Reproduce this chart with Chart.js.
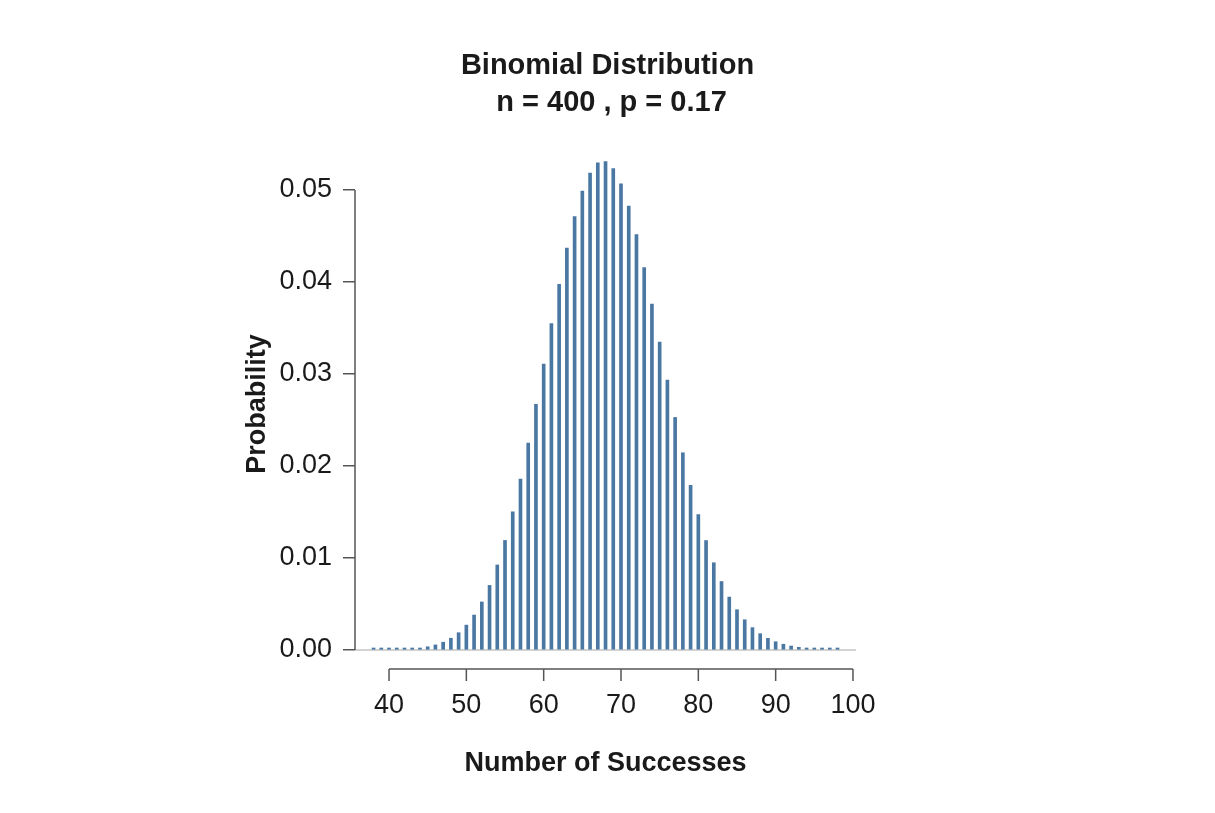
<!DOCTYPE html>
<html>
<head>
<meta charset="utf-8">
<script src="https://cdn.jsdelivr.net/npm/chart.js@4/dist/chart.umd.min.js"></script>
<style>
  html, body { margin: 0; padding: 0; background: #ffffff; }
  #wrap { width: 1215px; height: 813px; }
</style>
</head>
<body>
<div id="wrap"><canvas id="chart" width="1215" height="813"></canvas></div>
<script>
const successes = [
  38, 39, 40, 41, 42, 43, 44, 45, 46, 47, 48, 49, 50, 51, 52, 53, 54, 55, 56, 57,
  58, 59, 60, 61, 62, 63, 64, 65, 66, 67, 68, 69, 70, 71, 72, 73, 74, 75, 76, 77,
  78, 79, 80, 81, 82, 83, 84, 85, 86, 87, 88, 89, 90, 91, 92, 93, 94, 95, 96, 97, 98,
];
const probabilities = [
  0.0000068, 0.000013, 0.0000241, 0.0000433, 0.0000758, 0.000129, 0.000215, 0.000348,
  0.00055, 0.000848, 0.001278, 0.00188, 0.002703, 0.003799, 0.005222, 0.007023,
  0.009243, 0.01191, 0.01503, 0.01858, 0.0225, 0.02671, 0.03109, 0.03549,
  0.03975, 0.04368, 0.04711, 0.04988, 0.05185, 0.05294, 0.0531, 0.05233,
  0.05068, 0.04825, 0.04516, 0.04156, 0.03761, 0.03348, 0.02933, 0.02528,
  0.02144, 0.0179, 0.01471, 0.0119, 0.009483, 0.007442, 0.005752, 0.00438,
  0.003286, 0.002429, 0.00177, 0.001271, 0.0009, 0.000628, 0.000432, 0.000293,
  0.000196, 0.000129, 0.000084, 0.0000539, 0.0000341,
];
const xTickValues = [40, 50, 60, 70, 80, 90, 100];
const yTickValues = [0, 0.01, 0.02, 0.03, 0.04, 0.05];

const FONT = "'Liberation Sans', Arial, Helvetica, sans-serif";
const BAR_COLOR = "#4b77a3";
const AXIS_COLOR = "#555555";
const TEXT_COLOR = "#1a1a1a";

// R-style axes: y line only spans the tick range, x axis is detached below the plot
const axesPlugin = {
  id: "rAxes",
  beforeDatasetsDraw(chart) {
    const { ctx, chartArea, scales } = chart;
    const y0 = scales.y.getPixelForValue(0);
    ctx.save();
    ctx.strokeStyle = "#c4c4c4";
    ctx.lineWidth = 1.5;
    ctx.beginPath();
    ctx.moveTo(chartArea.left, y0);
    ctx.lineTo(chartArea.right, y0);
    ctx.stroke();
    ctx.restore();
  },
  afterDraw(chart) {
    const { ctx, chartArea, scales } = chart;
    const x = scales.x;
    const y = scales.y;
    ctx.save();
    ctx.strokeStyle = AXIS_COLOR;
    ctx.lineWidth = 1.5;

    // y axis line
    ctx.beginPath();
    ctx.moveTo(chartArea.left, y.getPixelForValue(yTickValues[0]));
    ctx.lineTo(chartArea.left, y.getPixelForValue(yTickValues[yTickValues.length - 1]));
    ctx.stroke();

    // x axis line + ticks
    const axisY = chartArea.bottom + 19;
    ctx.beginPath();
    ctx.moveTo(x.getPixelForValue(xTickValues[0]), axisY);
    ctx.lineTo(x.getPixelForValue(xTickValues[xTickValues.length - 1]), axisY);
    for (const v of xTickValues) {
      const px = x.getPixelForValue(v);
      ctx.moveTo(px, axisY);
      ctx.lineTo(px, axisY + 12);
    }
    ctx.stroke();
    ctx.restore();
  },
};

const chart = new Chart(document.getElementById("chart"), {
  type: "bar",
  data: {
    datasets: [
      {
        label: "Probability",
        data: successes.map((k, i) => ({ x: k, y: probabilities[i] })),
        backgroundColor: BAR_COLOR,
        borderWidth: 0,
        barThickness: 3,
        minBarLength: 2,
        yAxisID: "y",
      },
    ],
  },
  options: {
    responsive: false,
    animation: false,
    layout: { padding: 0 },
    plugins: {
      legend: { display: false },
      tooltip: { enabled: false },
      title: {
        display: true,
        text: ["Binomial Distribution", " n = 400 , p = 0.17"],
        color: TEXT_COLOR,
        font: { family: FONT, size: 29, weight: "bold", lineHeight: 37 / 29 },
        padding: { top: 47.5, bottom: 36.5 },
      },
    },
    scales: {
      x: {
        type: "linear",
        offset: false,
        min: 35.6,
        max: 100.39,
        grid: { display: false },
        border: { display: false },
        afterBuildTicks: (scale) => {
          scale.ticks = xTickValues.map((v) => ({ value: v }));
        },
        afterFit: (scale) => {
          scale.height = 163;
        },
        ticks: {
          color: TEXT_COLOR,
          font: { family: FONT, size: 27 },
          padding: 31,
          maxRotation: 0,
          callback: (v) => String(v),
        },
        title: {
          display: true,
          text: "Number of Successes",
          color: TEXT_COLOR,
          font: { family: FONT, size: 27, weight: "bold" },
          padding: { top: 0, bottom: 33 },
        },
      },
      y: {
        position: "left",
        min: 0,
        max: 0.053478,
        border: { display: false },
        grid: {
          display: true,
          drawOnChartArea: false,
          drawTicks: true,
          tickLength: 12,
          tickColor: AXIS_COLOR,
          lineWidth: 1.5,
        },
        afterBuildTicks: (scale) => {
          scale.ticks = yTickValues.map((v) => ({ value: v }));
        },
        afterFit: (scale) => {
          scale.width = 355;
        },
        ticks: {
          color: TEXT_COLOR,
          font: { family: FONT, size: 27 },
          padding: 11,
          callback: (v) => v.toFixed(2),
        },
        title: {
          display: true,
          text: "Probability",
          color: TEXT_COLOR,
          font: { family: FONT, size: 27, weight: "bold" },
          padding: { top: 241, bottom: 0 },
        },
      },
      // empty right-side axis, only reserves the white margin
      yRight: {
        position: "right",
        display: true,
        grid: { display: false },
        border: { display: false },
        ticks: { display: false },
        afterFit: (scale) => {
          scale.width = 359;
        },
      },
    },
  },
  plugins: [axesPlugin],
});
</script>
</body>
</html>
